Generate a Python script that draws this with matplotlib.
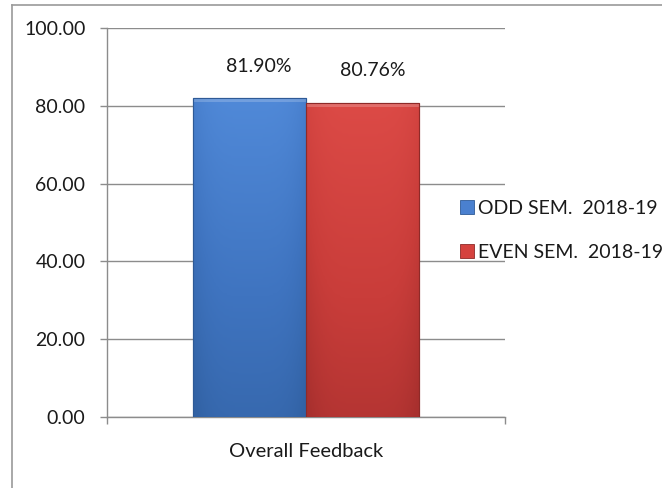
import matplotlib
matplotlib.use("Agg")
import matplotlib.pyplot as plt
import numpy as np
from matplotlib.lines import Line2D
from matplotlib.patches import Rectangle
from matplotlib.colors import LinearSegmentedColormap

category = "Overall Feedback"
series_names = ["ODD SEM.  2018-19", "EVEN SEM.  2018-19"]
values = [81.90, 80.76]
value_labels = ["81.90%", "80.76%"]
yticks = [0, 20, 40, 60, 80, 100]
ytick_labels = ["0.00", "20.00", "40.00", "60.00", "80.00", "100.00"]

colors = ["#4A80CF", "#D5423E"]
grad = [("#5089D8", "#3F74C0", "#3262A4"), ("#DC4A46", "#C93D3A", "#A8302E")]
edges = ["#2E5A96", "#8E2A28"]

plt.rcParams['font.family'] = ['Lato', 'DejaVu Sans']
FS = 14

fig = plt.figure(figsize=(6.62, 4.88), dpi=100)
W, H = 662, 488
ax = fig.add_axes([107 / W, 1 - 417 / H, (505 - 107) / W, (417 - 28) / H])

ax.set_xlim(-0.5, 0.5)
ax.set_ylim(0, 100)

w = 0.285
xs = [-w / 2, w / 2]
for i, (x, v) in enumerate(zip(xs, values)):
    bar = ax.bar(x, v, width=w, color=colors[i], edgecolor=edges[i], linewidth=0.8,
                 zorder=3, label=series_names[i])[0]
    cmap = LinearSegmentedColormap.from_list("g%d" % i, list(grad[i]))
    nx, ny = 60, 100
    gx = np.linspace(0, 1, nx)
    gy = np.linspace(0, 1, ny)
    edge_dark = 0.25 * (np.abs(gx - 0.5) * 2) ** 4
    img = np.clip(0.8 * gy[:, None] + edge_dark[None, :], 0, 1)
    im = ax.imshow(img, extent=[x - w / 2, x + w / 2, 0, v], origin="upper",
                   cmap=cmap, aspect="auto", zorder=3.5, vmin=0, vmax=1)
    im.set_clip_path(bar)
    ax.add_patch(Rectangle((x - w / 2, v - 1.0), w, 1.0, facecolor="white", alpha=0.2,
                           edgecolor="none", zorder=3.6))
    ax.add_patch(Rectangle((x - w / 2, 0), w, v, facecolor="none", edgecolor=edges[i],
                           linewidth=0.8, zorder=3.7))
    ax.annotate(value_labels[i], xy=(x, v), xytext=(7, 23), textcoords="offset points",
                ha="center", va="center", fontsize=FS, color="#1a1a1a", zorder=5)

ax.set_xlim(-0.5, 0.5)
ax.set_ylim(0, 100)

ax.set_yticks(yticks)
ax.set_yticklabels(ytick_labels, fontsize=FS, color="#1a1a1a")
ax.yaxis.grid(True, color="#8c8c8c", linewidth=1.0, zorder=0)
ax.set_axisbelow(True)
ax.tick_params(axis="y", length=5, color="#8c8c8c", width=1.0, pad=10.5)

ax.set_xticks([-0.5, 0.5])
ax.set_xticklabels(["", ""])
ax.tick_params(axis="x", which="major", length=5, color="#8c8c8c", width=1.0)
ax.set_xticks([0], minor=True)
ax.set_xticklabels([category], minor=True, fontsize=14.5, color="#1a1a1a")
ax.tick_params(axis="x", which="minor", length=0, pad=19)

for s in ["top", "right"]:
    ax.spines[s].set_visible(False)
for s in ["left", "bottom"]:
    ax.spines[s].set_color("#8c8c8c")
    ax.spines[s].set_linewidth(1.0)

handles = [Line2D([0], [0], marker="s", linestyle="none", markersize=10,
                  markerfacecolor=colors[i], markeredgecolor=edges[i], markeredgewidth=0.6)
           for i in range(2)]
leg = fig.legend(handles, series_names, loc="upper left",
                 bbox_to_anchor=(460 / W, 1 - 200 / H), frameon=False, fontsize=FS,
                 handlelength=0.75, handletextpad=0.2, labelspacing=1.4,
                 borderpad=0, borderaxespad=0)
for t in leg.get_texts():
    t.set_color("#1a1a1a")

fig.add_artist(Line2D([12 / W, 12 / W], [0, 1 - 5 / H], transform=fig.transFigure,
                      color="#9a9a9a", linewidth=1.2))
fig.add_artist(Line2D([12 / W, 1], [1 - 5 / H, 1 - 5 / H], transform=fig.transFigure,
                      color="#9a9a9a", linewidth=1.2))

fig.savefig("out.png", dpi=100)
